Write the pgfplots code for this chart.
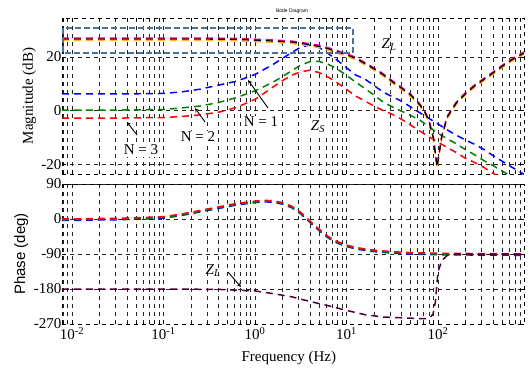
\documentclass[border=0pt]{standalone}
\usepackage{fontspec}
\setmainfont{Liberation Serif}
\newfontfamily\arial{Liberation Sans}
\usepackage{pgfplots}
\pgfplotsset{compat=1.18}
\definecolor{boxblue}{rgb}{0.31,0.44,0.6}
\definecolor{zlorange}{rgb}{1,0.7,0.1}
\definecolor{zlpurple}{rgb}{0.3,0.0,0.2}
\definecolor{mgreen}{rgb}{0,0.5,0}
\begin{document}
\begin{tikzpicture}
\useasboundingbox (0pt,0pt) rectangle (532pt,376pt);
% ---------------- Magnitude ----------------
\begin{axis}[
    xmode=log, scale only axis, width=462pt, anchor=south west,
    xmin=0.00776, xmax=871,
    xtick={0.01,0.1,1,10,100},
    minor xtick={0.008,0.009,0.02,0.03,0.04,0.05,0.06,0.07,0.08,0.09,0.2,0.3,0.4,0.5,0.6,0.7,0.8,0.9,2,3,4,5,6,7,8,9,20,30,40,50,60,70,80,90,200,300,400,500,600,700,800},
    grid=both,
    major grid style={black!85, dash pattern=on 4pt off 4pt, line width=0.8pt},
    minor grid style={black!85, dash pattern=on 4pt off 4pt, line width=0.8pt},
    axis line style={black, dash pattern=on 4pt off 4pt, line width=0.8pt},
    tick style={black, line width=0.8pt},
    tick align=inside, major tick length=4pt, minor tick length=2.5pt,
    ticklabel style={font=\fontsize{15}{15}\selectfont},
    yticklabel style={inner xsep=0.5pt},
    label style={font=\fontsize{15}{17}\selectfont},
    every axis plot/.append style={line width=1.5pt, dash pattern=on 7pt off 5pt},
  at={(62pt,202pt)}, height=156pt,
  ymin=-23.7, ymax=34.6, ytick={-20,0,20}, yticklabels={-20,0,20},
  xticklabels=\empty,
  ylabel={Magnitude (dB)},
  ylabel style={at={(axis description cs:-0.071,0.5)}, anchor=center}]
% N = 1
\addplot[blue] coordinates {
(0.00776,6.2) (0.0316,6.2) (0.1,6.4) (0.158,7.0) (0.251,8.0) (0.398,9.5) (0.631,11.0)
(1,13.5) (1.259,15.4) (1.585,17.3) (1.995,19.5) (2.512,21.7) (3.162,23.7) (3.981,24.5)
(5.012,23.6) (6.310,21.3) (7.943,18.8) (10,16.0) (12.59,13.3) (15.85,11.8) (19.95,9.4)
(25.12,6.9) (31.62,5.2) (39.81,3.5) (50.12,1.4) (63.10,-0.8) (79.43,-2.9) (100,-5.0)
(125.9,-7.2) (158.5,-9.2) (199.5,-11.0) (251.2,-12.6) (316.2,-14.5) (398.1,-16.8)
(501.2,-18.9) (631.0,-21.0) (871,-23.8)};
% N = 2
\addplot[mgreen] coordinates {
(0.00776,0.2) (0.0316,0.2) (0.1,0.4) (0.158,1.0) (0.251,1.7) (0.398,3.0) (0.631,4.9)
(1,7.4) (1.259,9.0) (1.585,10.7) (1.995,12.7) (2.512,14.9) (3.162,17.0) (3.981,18.3)
(5.012,18.4) (6.310,17.3) (7.943,15.5) (10,13.2) (12.59,10.6) (15.85,8.3) (19.95,5.8)
(25.12,3.2) (31.62,1.4) (39.81,-0.2) (50.12,-1.8) (63.10,-3.5) (79.43,-6.0) (100,-8.5)
(125.9,-10.5) (158.5,-12.4) (199.5,-14.6) (251.2,-16.5) (316.2,-18.7) (398.1,-20.5)
(501.2,-22.6) (631.0,-24.5)};
% N = 3
\addplot[red] coordinates {
(0.00776,-2.8) (0.0316,-2.8) (0.1,-2.6) (0.158,-2.2) (0.251,-1.6) (0.398,-0.6) (0.631,1.2)
(1,4.2) (1.259,6.5) (1.585,8.9) (1.995,11.2) (2.512,13.2) (3.162,14.5) (3.981,15.1)
(5.012,14.2) (6.310,12.5) (7.943,10.4) (10,7.9) (12.59,5.4) (15.85,3.6) (19.95,1.7)
(25.12,0.0) (31.62,-1.4) (39.81,-3.2) (50.12,-5.4) (63.10,-7.6) (79.43,-9.8) (100,-11.8)
(125.9,-13.8) (158.5,-15.7) (199.5,-17.8) (251.2,-19.4) (316.2,-21.2) (398.1,-23.4)
(501.2,-25.5)};
% Z_L (three overlapping curves)
\addplot[zlorange, yshift=-1.3pt] coordinates {
(0.00776,26.7) (0.1,26.7) (0.316,26.7) (0.631,26.6) (1,26.3) (1.585,26.0) (2.512,25.6)
(3.981,24.6) (5.012,24.0) (6.310,23.1) (7.943,22.0) (10,20.9) (12.59,19.5) (15.85,17.6)
(19.95,15.6) (25.12,13.4) (31.62,10.8) (39.81,8.4) (50.12,5.8) (63.10,2.2) (70.79,-0.2)
(79.43,-3.8) (89.13,-10.5) (97.7,-21.1) (109.6,-10.0) (125.9,-2.5) (158.5,2.8) (199.5,6.3)
(251.2,9.2) (316.2,11.6) (398.1,14.0) (501.2,16.5) (631.0,18.8) (871,21.5)};
\addplot[magenta, yshift=1.0pt] coordinates {
(0.00776,26.7) (0.1,26.7) (0.316,26.7) (0.631,26.6) (1,26.3) (1.585,26.0) (2.512,25.6)
(3.981,24.6) (5.012,24.0) (6.310,23.1) (7.943,22.0) (10,20.9) (12.59,19.5) (15.85,17.6)
(19.95,15.6) (25.12,13.4) (31.62,10.8) (39.81,8.4) (50.12,5.8) (63.10,2.2) (70.79,-0.2)
(79.43,-3.8) (89.13,-10.5) (97.7,-21.1) (109.6,-10.0) (125.9,-2.5) (158.5,2.8) (199.5,6.3)
(251.2,9.2) (316.2,11.6) (398.1,14.0) (501.2,16.5) (631.0,18.8) (871,21.5)};
\addplot[black, line width=1.2pt] coordinates {
(0.00776,26.7) (0.1,26.7) (0.316,26.7) (0.631,26.6) (1,26.3) (1.585,26.0) (2.512,25.6)
(3.981,24.6) (5.012,24.0) (6.310,23.1) (7.943,22.0) (10,20.9) (12.59,19.5) (15.85,17.6)
(19.95,15.6) (25.12,13.4) (31.62,10.8) (39.81,8.4) (50.12,5.8) (63.10,2.2) (70.79,-0.2)
(79.43,-3.8) (89.13,-10.5) (97.7,-21.1) (109.6,-10.0) (125.9,-2.5) (158.5,2.8) (199.5,6.3)
(251.2,9.2) (316.2,11.6) (398.1,14.0) (501.2,16.5) (631.0,18.8) (871,21.5)};
\draw[boxblue, dash pattern=on 6pt off 3pt, line width=1.7pt]
  (axis cs:0.00797,30.8) rectangle (axis cs:11.78,21.5);
\end{axis}
% ---------------- Phase ----------------
\begin{axis}[
    xmode=log, scale only axis, width=462pt, anchor=south west,
    xmin=0.00776, xmax=871,
    xtick={0.01,0.1,1,10,100},
    minor xtick={0.008,0.009,0.02,0.03,0.04,0.05,0.06,0.07,0.08,0.09,0.2,0.3,0.4,0.5,0.6,0.7,0.8,0.9,2,3,4,5,6,7,8,9,20,30,40,50,60,70,80,90,200,300,400,500,600,700,800},
    grid=both,
    major grid style={black!85, dash pattern=on 4pt off 4pt, line width=0.8pt},
    minor grid style={black!85, dash pattern=on 4pt off 4pt, line width=0.8pt},
    axis line style={black, dash pattern=on 4pt off 4pt, line width=0.8pt},
    tick style={black, line width=0.8pt},
    tick align=inside, major tick length=4pt, minor tick length=2.5pt,
    ticklabel style={font=\fontsize{15}{15}\selectfont},
    yticklabel style={inner xsep=0.5pt},
    label style={font=\fontsize{15}{17}\selectfont},
    every axis plot/.append style={line width=1.5pt, dash pattern=on 7pt off 5pt},
  at={(62pt,52pt)}, height=140pt,
  ymin=-270, ymax=90, ytick={-270,-180,-90,0,90}, yticklabels={-270,-180,-90,0,90},
  xticklabels={10\textsuperscript{-2},10\textsuperscript{-1},10\textsuperscript{0},10\textsuperscript{1},10\textsuperscript{2}},
  ylabel={\arial Phase (deg)},
  ylabel style={at={(axis description cs:-0.088,0.5)}, anchor=center},
  xlabel={Frequency (Hz)},
  xlabel style={at={(axis description cs:0.491,-0.243)}, anchor=center}]
\addplot[blue, yshift=-1.5pt] coordinates {
(0.00776,0) (0.0316,2) (0.0631,4) (0.1,6) (0.158,13) (0.251,22) (0.398,31) (0.631,40)
(1,46) (1.259,48) (1.585,47) (1.995,42) (2.512,33) (3.162,17) (3.981,-5) (5.012,-26)
(6.310,-45) (7.943,-58) (10,-67) (12.59,-73) (15.85,-77) (19.95,-80) (31.62,-84)
(50.12,-86.5) (100,-88) (316.2,-89) (871,-89.5)};
\addplot[mgreen, yshift=-0.8pt] coordinates {
(0.00776,0) (0.0316,2) (0.0631,4) (0.1,6) (0.158,13) (0.251,22) (0.398,31) (0.631,40)
(1,46) (1.259,48) (1.585,47) (1.995,42) (2.512,33) (3.162,17) (3.981,-5) (5.012,-26)
(6.310,-45) (7.943,-58) (10,-67) (12.59,-73) (15.85,-77) (19.95,-80) (31.62,-84)
(50.12,-86.5) (100,-88) (316.2,-89) (871,-89.5)};
\addplot[red] coordinates {
(0.00776,0) (0.0316,2) (0.0631,4) (0.1,6) (0.158,13) (0.251,22) (0.398,31) (0.631,40)
(1,46) (1.259,48) (1.585,47) (1.995,42) (2.512,33) (3.162,17) (3.981,-5) (5.012,-26)
(6.310,-45) (7.943,-58) (10,-67) (12.59,-73) (15.85,-77) (19.95,-80) (31.62,-84)
(50.12,-86.5) (100,-88) (316.2,-89) (871,-89.5)};
\addplot[zlpurple] coordinates {
(0.00776,-180) (0.1,-180) (0.398,-181) (1,-185) (1.585,-192) (2.512,-200) (3.981,-212)
(6.310,-223) (10,-235) (15.85,-246) (25.12,-252) (39.81,-254) (63.10,-256) (79.43,-256)
(88.1,-245) (93.3,-215) (100,-135) (110.7,-106) (125.9,-94) (134.9,-91) (199.5,-90)
(871,-90)};
\end{axis}
% ---------------- Annotations ----------------
\begin{scope}[x=1pt,y=1pt]
\node[font=\arial\fontsize{5}{6}\selectfont] at (292,365) {Bode Diagram};
\node[font=\fontsize{15}{15}\selectfont, inner sep=1pt] at (389,331) {\textit{Z}\textsubscript{\textit{L}}};
\node[font=\fontsize{15}{15}\selectfont, fill=white, inner sep=1.5pt] at (318,249) {\textit{Z}\textsubscript{\textit{S}}};
\node[font=\fontsize{15}{15}\selectfont, fill=white, inner sep=1.5pt] at (261,254) {N = 1};
\node[font=\fontsize{15}{15}\selectfont, fill=white, inner sep=1.5pt] at (198,239) {N = 2};
\node[font=\fontsize{15}{15}\selectfont, fill=white, inner sep=1.5pt] at (141,226) {N = 3};
\draw[-stealth, line width=0.9pt] (137,241) -- (127,254);
\draw[-stealth, line width=0.9pt] (205,254) -- (195,268);
\draw[-stealth, line width=0.9pt] (268,268) -- (248,296);
\node[font=\fontsize{15}{15}\selectfont, inner sep=1pt] at (213,105) {\textit{Z}\textsubscript{\textit{L}}};
\draw[-stealth, line width=0.9pt] (228,104) -- (241,89);
\end{scope}
\end{tikzpicture}
\end{document}
